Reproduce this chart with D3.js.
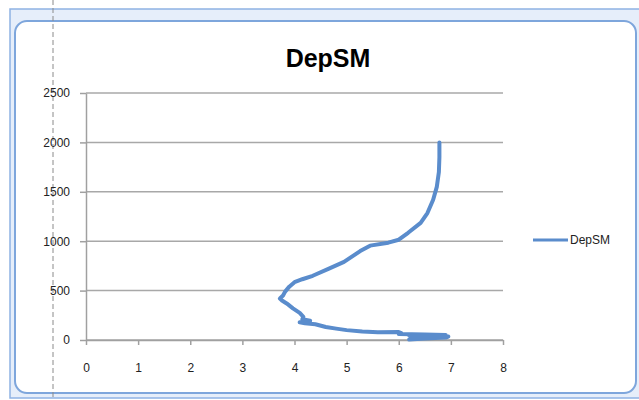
<!DOCTYPE html>
<html>
<head>
<meta charset="utf-8">
<script src="https://cdn.jsdelivr.net/npm/d3@7"></script>
<style>
  body { margin: 0; background: #fff; }
  svg { display: block; }
  text { font-family: "Liberation Sans", Arial, sans-serif; }
</style>
</head>
<body>
<div class="graph"></div>
<script>
// series values (surface first, going down)
const depSM = [6.2, 6.5, 6.9, 6.95, 6.6, 6.2, 6.9, 6.5, 6.0, 6.05, 6.0, 5.6, 5.3, 5.0, 4.8, 4.6, 4.4, 4.2, 4.1, 4.3,
  4.15, 4.17, 4.1, 3.97, 3.85, 3.76, 3.72, 3.78, 3.82, 3.9, 4.0, 4.15, 4.35, 4.65, 4.95, 5.26, 5.45, 5.8, 6.0,
  6.18, 6.42, 6.55, 6.66, 6.73, 6.77, 6.78, 6.78];
const depth = [5, 15, 25, 35, 40, 45, 50, 55, 60, 70, 80, 78, 85, 100, 115, 132, 160, 170, 180, 195,
  210, 235, 275, 320, 370, 400, 420, 450, 490, 540, 585, 615, 650, 720, 790, 900, 955, 985, 1015,
  1085, 1185, 1285, 1420, 1550, 1700, 1850, 2000];
const xTicks = [0, 1, 2, 3, 4, 5, 6, 7, 8];
const yTicks = [0, 500, 1000, 1500, 2000, 2500];
const seriesName = 'DepSM';

const width = 639;
const height = 400;

const svg = d3.select('.graph').append('svg')
  .attr('width', width)
  .attr('height', height);

// window chrome round the chart
svg.append('rect')
  .attr('x', 10).attr('y', 9)
  .attr('width', 640).attr('height', 389)
  .attr('fill', '#e6eefa')
  .attr('stroke', '#8fb2e4')
  .attr('stroke-width', 1.5);
svg.append('rect')
  .attr('x', 15).attr('y', 21)
  .attr('width', 621).attr('height', 372)
  .attr('rx', 12)
  .attr('fill', '#fff')
  .attr('stroke', '#7ea6dc')
  .attr('stroke-width', 2);
svg.append('line')
  .attr('x1', 53).attr('x2', 53)
  .attr('y1', 0).attr('y2', height)
  .attr('stroke', '#8a8a8a')
  .attr('stroke-dasharray', '5,3');

const x = d3.scaleLinear().domain([0, 8]).range([86, 503]);
const y = d3.scaleLinear().domain([0, 2500]).range([340, 93]);

// gridlines
svg.append('g').selectAll('line')
  .data(yTicks)
  .enter().append('line')
  .attr('x1', x(0)).attr('x2', x(8))
  .attr('y1', d => y(d)).attr('y2', d => y(d))
  .attr('stroke', '#a8a8a8')
  .attr('stroke-width', 1.5);

// axes
const xAxis = svg.append('g')
  .attr('transform', 'translate(0,' + y(0) + ')')
  .call(d3.axisBottom(x).tickValues(xTicks).tickFormat(d3.format('d'))
    .tickSize(5).tickPadding(18).tickSizeOuter(0));
const yAxis = svg.append('g')
  .attr('transform', 'translate(' + x(0) + ',0)')
  .call(d3.axisLeft(y).tickValues(yTicks).tickFormat(d3.format('d'))
    .tickSize(6).tickPadding(10).tickSizeOuter(0));

[xAxis, yAxis].forEach(a => {
  a.select('.domain').attr('stroke', '#a0a0a0').attr('stroke-width', 1.5);
  a.selectAll('.tick line').attr('stroke', '#a0a0a0').attr('stroke-width', 1.5);
  a.selectAll('.tick text').attr('fill', '#222').style('font-size', '12px');
});

// the series
const points = depSM.map((v, i) => [v, depth[i]]);
svg.append('path')
  .datum(points)
  .attr('fill', 'none')
  .attr('stroke', '#5a8ccc')
  .attr('stroke-width', 4)
  .attr('stroke-linejoin', 'round')
  .attr('stroke-linecap', 'round')
  .attr('d', d3.line().x(d => x(d[0])).y(d => y(d[1])));

// title
svg.append('text')
  .attr('x', 328).attr('y', 67)
  .attr('text-anchor', 'middle')
  .style('font-size', '25px')
  .style('font-weight', 'bold')
  .text(seriesName);

// legend
const legend = svg.append('g').attr('transform', 'translate(533,240)');
legend.append('line')
  .attr('x1', 0).attr('x2', 35)
  .attr('stroke', '#5a8ccc')
  .attr('stroke-width', 3);
legend.append('text')
  .attr('x', 37).attr('dy', '.35em')
  .style('font-size', '12px')
  .attr('fill', '#222')
  .text(seriesName);
</script>
</body>
</html>
